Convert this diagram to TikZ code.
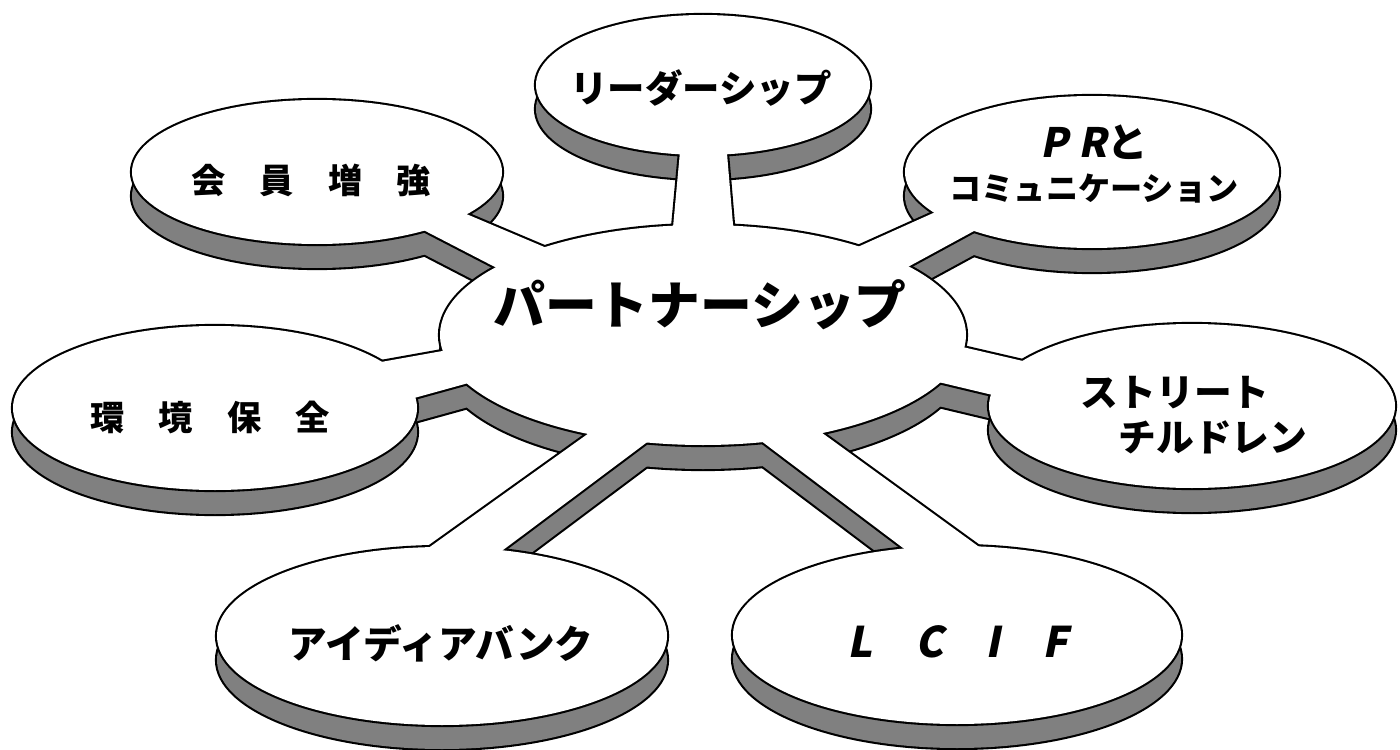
\documentclass[tikz,border=0pt]{standalone}
\usepackage{fontspec}
\setmainfont{Noto Sans CJK JP}
\newfontfamily\slantjp[FakeSlant=0.2]{Noto Sans CJK JP}
\tikzset{
  rim/.style={draw=black, line width=2.4pt, line join=round},
  disctext/.style 2 args={font=\bfseries\fontsize{#1}{#2}\selectfont, inner sep=0pt, align=center},
}
\newcommand\platform[1]{%
  \foreach \cx/\cy/\rx/\ry in {703/335/263/110, 703/85/167/70, 317/172/185/72, 1092/172/187/76,
      215/408/202/82, 1192/406/203/82, 442/636/225/89, 957/635/224/89}
    \path[#1] (\cx,\cy) ellipse [x radius=\rx, y radius=\ry];
  \foreach \ax/\ay/\bx/\by/\qx/\qy/\sx/\sy in {682/130/670/260/736/260/725/130,
      445/205/575/260/524/282/406/221, 831/259/960/201/996/219/882/281,
      353/367/476/345/501/374/378/408, 928/339/1066/371/1022/402/909/375,
      406/564/617/413/674/422/479/568, 736/422/927/566/1004/565/796/414}
    \path[#1] (\ax,\ay) -- (\bx,\by) -- (\qx,\qy) -- (\sx,\sy) -- cycle;
}
\begin{document}
\begin{tikzpicture}[x=0.02cm, y=-0.02cm]
\useasboundingbox (0,0) rectangle (1400,750);
\begin{scope}[shift={(0,24)}]
\platform{rim}
\platform{fill=black!50}
\end{scope}
\platform{rim}
\platform{fill=white}

\node[disctext={29.5}{30}] (hub) at (700,305) {パートナーシップ};
\node[disctext={21.3}{22}] (lead) at (701,88) {リーダーシップ};
\node[disctext={19.5}{20}] (memb) at (311,180) {会　員　増　強};
\node[disctext={18.3}{24}] (pr) at (1094,164) {{\fontsize{23}{24}\selectfont{\slantjp P\hspace{6pt}R}と}\\コミュニケーション};
\node[disctext={19.5}{20}] (envr) at (210,417) {環　境　保　全};
\node[disctext={21.5}{26}, align=left] (street) at (1194,415) {ストリート\\　チルドレン};
\node[disctext={22}{22}] (idea) at (441,643) {アイディアバンク};
\node[disctext={24}{24}] (lcif) at (958,642) {\slantjp L\hspace{24pt}C\hspace{24pt}I\hspace{24pt}F};
\end{tikzpicture}
\end{document}
